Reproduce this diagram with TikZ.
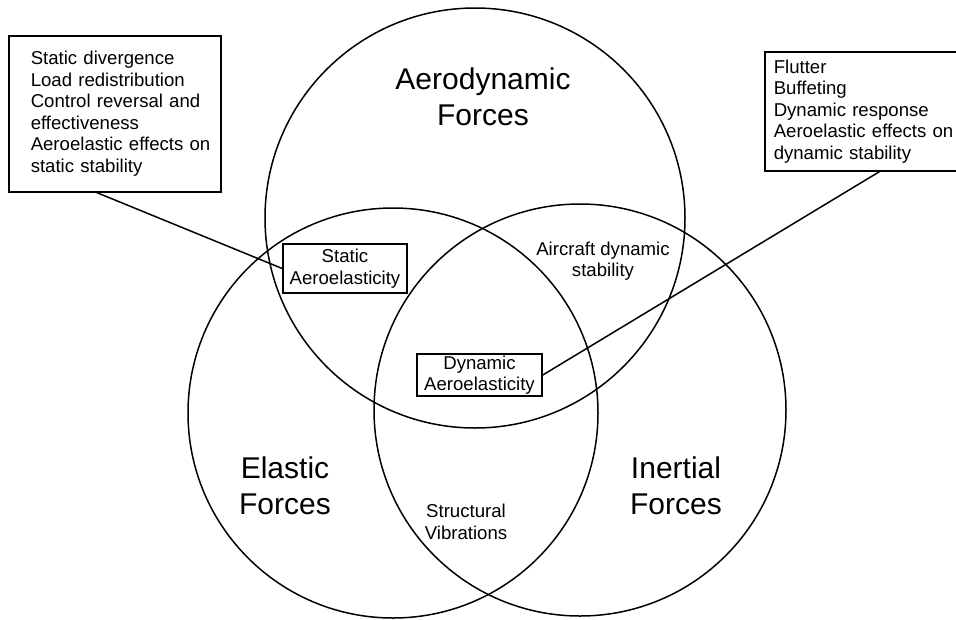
\documentclass[tikz,border=0pt]{standalone}
\usepackage{fontspec}
\setmainfont{Liberation Sans}
\usetikzlibrary{calc}

\begin{document}
\begin{tikzpicture}[x=1pt, y=-1pt, font=\fontsize{18.6}{21.5}\selectfont,
	l_2/.style={line width=1.5pt},
	listbox/.style={draw, l_2, align=left, anchor=north west, inner ysep=0pt},
	areabox/.style={draw, l_2, align=center, inner sep=0pt},
	big/.style={align=center, font=\fontsize{30}{36}\selectfont}]
	\useasboundingbox (0,0) rectangle (956,619);
	% the three force circles
	\foreach \cx/\cy/\r in {475/218/210, 393/413/205, 580/410/206} {
		\draw[l_2] (\cx,\cy) circle (\r pt);
	};
	\node[big] (aero) at (483,97) {Aerodynamic\\Forces};
	\node[big] (elast) at (285,486) {Elastic\\Forces};
	\node[big] (inert) at (676,486) {Inertial\\Forces};
	\node[align=center] (acstab) at (603,261) {Aircraft dynamic\\stability};
	\node[align=center] (strvib) at (466,522) {Structural\\Vibrations};
	\node[areabox, minimum width=124pt, minimum height=49pt] (stat) at (345,268.5) {Static\\Aeroelasticity};
	\node[areabox, minimum width=125pt, minimum height=42pt] (dyn) at (479.5,375) {Dynamic\\Aeroelasticity};
	% lists of phenomena
	\node[listbox, text width=204pt, inner xsep=4pt, minimum height=156pt] (statlist) at (8,35)
		{\leftskip=18pt Static divergence\\Load redistribution\\Control reversal and\\effectiveness\\Aeroelastic effects on\\static stability\par};
	\node[listbox, text width=200pt, inner xsep=9pt, minimum height=119pt] (dynlist) at (764,51)
		{Flutter\\Buffeting\\Dynamic response\\Aeroelastic effects on\\dynamic stability};
	\draw[l_2] ($(statlist.south west)!0.415!(statlist.south east)$) -- (stat.west);
	\draw[l_2] (dyn.east) -- ($(dynlist.south west)!0.527!(dynlist.south east)$);
\end{tikzpicture}
\end{document}
